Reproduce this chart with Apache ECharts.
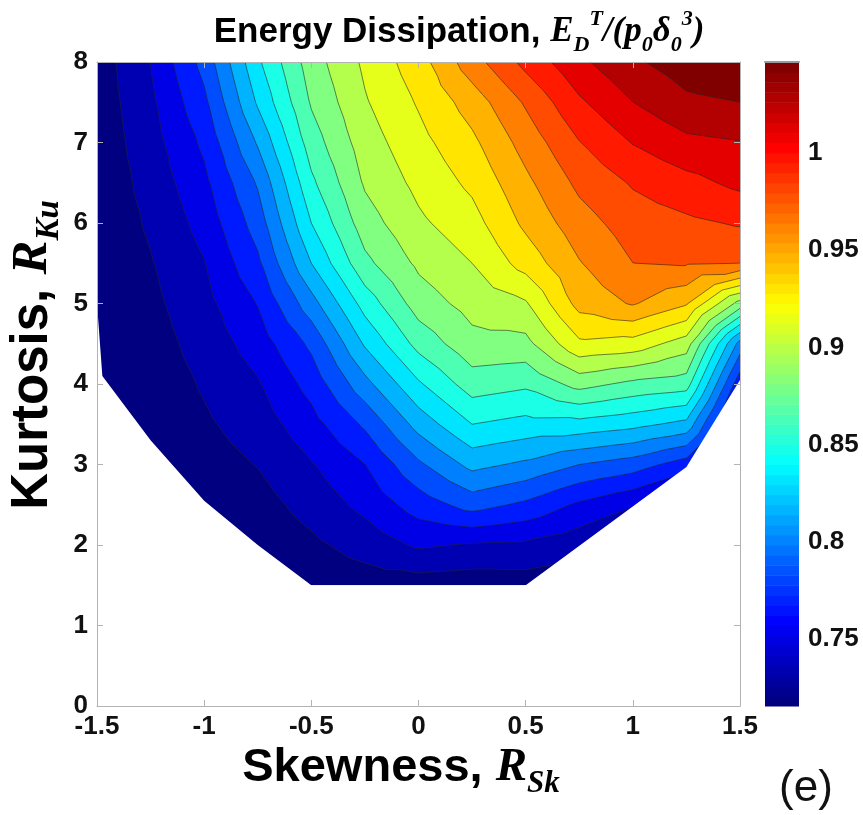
<!DOCTYPE html>
<html><head><meta charset="utf-8">
<script src="https://cdn.jsdelivr.net/npm/echarts@6/dist/echarts.min.js"></script>
<style>html,body{margin:0;padding:0;background:#fff}#c{width:863px;height:815px}</style>
</head><body><div id="c"></div>
<script>
// ---- data ----
const skewness = [-1.5, -1.25, -1, -0.75, -0.5, -0.25, 0, 0.25, 0.5, 0.75, 1, 1.25, 1.5];
const kurtosis = [1.5, 2, 2.5, 3, 3.5, 4, 4.5, 5, 5.5, 6, 6.5, 7, 7.5, 8];
// energy[j][i] : dissipated energy at kurtosis[j], skewness[i]
const energy = [
  [0.7156, 0.7156, 0.7156, 0.7172, 0.7203, 0.7235, 0.7235, 0.7219, 0.7235, 0.7203, 0.7172, 0.7156, 0.7156],
  [0.7156, 0.7156, 0.7188, 0.7203, 0.7282, 0.7378, 0.7494, 0.7456, 0.7440, 0.7370, 0.7235, 0.7188, 0.7156],
  [0.7156, 0.7172, 0.7219, 0.7251, 0.7374, 0.7516, 0.7702, 0.7850, 0.7755, 0.7601, 0.7487, 0.7314, 0.7188],
  [0.7156, 0.7188, 0.7251, 0.7320, 0.7460, 0.7628, 0.7916, 0.8150, 0.8071, 0.7945, 0.7866, 0.7708, 0.7235],
  [0.7156, 0.7203, 0.7290, 0.7388, 0.7569, 0.7814, 0.8162, 0.8418, 0.8366, 0.8362, 0.8307, 0.8213, 0.7393],
  [0.7164, 0.7219, 0.7331, 0.7456, 0.7687, 0.8050, 0.8396, 0.8654, 0.8605, 0.8790, 0.8695, 0.8648, 0.7676],
  [0.7172, 0.7243, 0.7377, 0.7542, 0.7822, 0.8280, 0.8629, 0.8839, 0.8842, 0.9176, 0.9143, 0.8970, 0.8039],
  [0.7180, 0.7274, 0.7421, 0.7637, 0.8039, 0.8482, 0.8807, 0.8951, 0.9031, 0.9419, 0.9537, 0.9380, 0.8828],
  [0.7188, 0.7303, 0.7465, 0.7755, 0.8260, 0.8692, 0.8922, 0.9049, 0.9269, 0.9512, 0.9679, 0.9695, 0.9679],
  [0.7195, 0.7337, 0.7527, 0.7859, 0.8418, 0.8818, 0.9019, 0.9146, 0.9399, 0.9613, 0.9758, 0.9806, 0.9853],
  [0.7203, 0.7370, 0.7590, 0.7963, 0.8542, 0.8911, 0.9091, 0.9241, 0.9485, 0.9717, 0.9853, 0.9944, 1.0034],
  [0.7211, 0.7405, 0.7662, 0.8120, 0.8654, 0.8973, 0.9156, 0.9329, 0.9585, 0.9831, 1.0003, 1.0116, 1.0146],
  [0.7219, 0.7438, 0.7749, 0.8282, 0.8750, 0.9034, 0.9222, 0.9436, 0.9700, 0.9970, 1.0152, 1.0279, 1.0310],
  [0.7227, 0.7475, 0.7842, 0.8389, 0.8817, 0.9080, 0.9295, 0.9613, 0.9884, 1.0118, 1.0285, 1.0389, 1.0436]
];
// lower edge of the feasible (skewness, kurtosis) region
const domainBoundary = [[-1.5, 5.0], [-1.475, 4.1], [-1.25, 3.3], [-1.0, 2.55], [-0.75, 2.0], [-0.5, 1.5],
                        [0.5, 1.5], [1.25, 2.97], [1.5, 4.05]];
const contourLevels = [0.7314, 0.7471, 0.7629, 0.7787, 0.7945, 0.8102, 0.8260, 0.8418, 0.8575, 0.8733,
                       0.8891, 0.9049, 0.9206, 0.9364, 0.9522, 0.9680, 0.9837, 0.9995, 1.0153, 1.0310];
const colorMin = 0.7156, colorMax = 1.0468;
const colorTicks = [0.75, 0.8, 0.85, 0.9, 0.95, 1];
const colormapSize = 64;

// ---- helpers ----
function jet(t) {
  const c = v => Math.max(0, Math.min(1, v));
  const r = c(1.5 - Math.abs(4 * t - 3)), g = c(1.5 - Math.abs(4 * t - 2)), b = c(1.5 - Math.abs(4 * t - 1));
  return 'rgb(' + Math.round(r * 255) + ',' + Math.round(g * 255) + ',' + Math.round(b * 255) + ')';
}
const TRIS = [];
for (let j = 0; j < kurtosis.length - 1; j++) {
  for (let i = 0; i < skewness.length - 1; i++) {
    const p00 = [skewness[i], kurtosis[j], energy[j][i]];
    const p10 = [skewness[i + 1], kurtosis[j], energy[j][i + 1]];
    const p01 = [skewness[i], kurtosis[j + 1], energy[j + 1][i]];
    const p11 = [skewness[i + 1], kurtosis[j + 1], energy[j + 1][i + 1]];
    const pc = [(p00[0] + p10[0]) / 2, (p00[1] + p01[1]) / 2, (p00[2] + p10[2] + p01[2] + p11[2]) / 4];
    TRIS.push([p00, p10, pc], [p10, p11, pc], [p11, p01, pc], [p01, p00, pc]);
  }
}
function clipAbove(poly, L) {
  const out = [];
  for (let n = 0; n < poly.length; n++) {
    const a = poly[n], b = poly[(n + 1) % poly.length];
    const ain = a[2] >= L, bin = b[2] >= L;
    if (ain) out.push(a);
    if (ain !== bin) {
      const t = (L - a[2]) / (b[2] - a[2]);
      out.push([a[0] + t * (b[0] - a[0]), a[1] + t * (b[1] - a[1]), L]);
    }
  }
  return out;
}
const bandFloors = [colorMin].concat(contourLevels);
const nBands = bandFloors.length;

const F_SANS = 'Liberation Sans', F_SERIF = 'Liberation Serif';
const axisGray = '#b3b3b3';
function frameAxis(extra) {
  return Object.assign({
    type: 'value', z: 10,
    axisLine: { show: true, onZero: false, lineStyle: { color: axisGray, width: 1 } },
    axisTick: { show: true, inside: true, length: 6, lineStyle: { color: axisGray, width: 1 } },
    splitLine: { show: false }
  }, extra);
}
const tickLabel = { fontSize: 26, fontWeight: 'bold', fontFamily: F_SANS, color: '#111', showMinLabel: true, showMaxLabel: true };
function mathRich(size, subSize, subLH, supLH, lh) {
  const base = { fontFamily: F_SERIF, fontWeight: 'bold', fontStyle: 'italic', fill: '#000' };
  return {
    a: { fontFamily: F_SANS, fontWeight: 'bold', fontSize: size, fill: '#000', lineHeight: lh },
    m: Object.assign({ fontSize: size, lineHeight: lh }, base),
    sub: Object.assign({ fontSize: subSize, lineHeight: subLH, verticalAlign: 'bottom' }, base),
    sup: Object.assign({ fontSize: subSize, lineHeight: supLH, verticalAlign: 'top' }, base)
  };
}

const chart = echarts.init(document.getElementById('c'), null, { renderer: 'canvas' });
chart.setOption({
  animation: false,
  backgroundColor: '#fff',
  grid: [
    { left: 97, right: 123, top: 62, bottom: 109 },
    { left: 765, width: 34, top: 62, bottom: 109 }
  ],
  xAxis: [
    frameAxis({ gridIndex: 0, min: -1.5, max: 1.5, interval: 0.5, position: 'bottom',
      axisLabel: Object.assign({ margin: 8 }, tickLabel) }),
    frameAxis({ gridIndex: 0, min: -1.5, max: 1.5, interval: 0.5, position: 'top', axisLabel: { show: false } }),
    { gridIndex: 1, type: 'value', min: 0, max: 1, position: 'top', z: 10,
      axisLine: { show: true, lineStyle: { color: '#9a9a9a', width: 2 } },
      axisTick: { show: false }, axisLabel: { show: false }, splitLine: { show: false } }
  ],
  yAxis: [
    frameAxis({ gridIndex: 0, min: 0, max: 8, interval: 1, position: 'left',
      axisLabel: Object.assign({ margin: 9 }, tickLabel) }),
    frameAxis({ gridIndex: 0, min: 0, max: 8, interval: 1, position: 'right', axisLabel: { show: false } }),
    { gridIndex: 1, type: 'value', min: colorMin, max: colorMax, position: 'right',
      axisLine: { show: false }, axisTick: { show: false }, splitLine: { show: false },
      axisLabel: Object.assign({ margin: 9, customValues: colorTicks }, tickLabel) }
  ],
  series: [
    { // filled contour bands
      type: 'custom', xAxisIndex: 0, yAxisIndex: 0, z: 1, silent: true,
      data: bandFloors.map((v, k) => [k, v]),
      renderItem: function (params, api) {
        const k = api.value(0), floor = api.value(1);
        let d = '';
        for (const tri of TRIS) {
          const poly = k === 0 ? tri : clipAbove(tri, floor);
          if (poly.length < 3) continue;
          for (let n = 0; n < poly.length; n++) {
            const c = api.coord([poly[n][0], poly[n][1]]);
            d += (n ? 'L' : 'M') + c[0].toFixed(2) + ' ' + c[1].toFixed(2);
          }
          d += 'Z';
        }
        return { type: 'path', shape: { pathData: d }, style: { fill: jet(k / (nBands - 1)), stroke: null } };
      }
    },
    { // contour lines
      type: 'custom', xAxisIndex: 0, yAxisIndex: 0, z: 2, silent: true,
      data: contourLevels.map((v, k) => [k, v]),
      renderItem: function (params, api) {
        const L = api.value(1);
        let d = '';
        for (const tri of TRIS) {
          const pts = [];
          for (let n = 0; n < 3; n++) {
            const a = tri[n], b = tri[(n + 1) % 3];
            if ((a[2] < L) !== (b[2] < L)) {
              const t = (L - a[2]) / (b[2] - a[2]);
              pts.push([a[0] + t * (b[0] - a[0]), a[1] + t * (b[1] - a[1])]);
            }
          }
          if (pts.length === 2) {
            const c0 = api.coord(pts[0]), c1 = api.coord(pts[1]);
            d += 'M' + c0[0].toFixed(2) + ' ' + c0[1].toFixed(2) + 'L' + c1[0].toFixed(2) + ' ' + c1[1].toFixed(2);
          }
        }
        return { type: 'path', shape: { pathData: d }, style: { fill: null, stroke: 'rgba(35,35,35,0.72)', lineWidth: 0.8 } };
      }
    },
    { // region outside the feasible domain
      type: 'custom', xAxisIndex: 0, yAxisIndex: 0, z: 3, silent: true,
      data: [[0]],
      renderItem: function (params, api) {
        const pts = [[-1.5, 0]].concat(domainBoundary, [[1.5, 0]]).map(p => api.coord(p));
        return { type: 'polygon', shape: { points: pts }, style: { fill: '#ffffff', stroke: null } };
      }
    },
    { // colorbar
      type: 'custom', xAxisIndex: 2, yAxisIndex: 2, z: 1, silent: true,
      data: Array.from({ length: colormapSize }, (_, i) => [i]),
      renderItem: function (params, api) {
        const i = api.value(0);
        const step = (colorMax - colorMin) / colormapSize;
        const lo = colorMin + i * step, hi = lo + step;
        const p1 = api.coord([0, hi]), p2 = api.coord([1, lo]);
        return { type: 'rect', shape: { x: p1[0], y: p1[1], width: p2[0] - p1[0], height: p2[1] - p1[1] + 0.6 },
                 style: { fill: jet(i / (colormapSize - 1)) } };
      }
    }
  ],
  graphic: [
    { type: 'text', x: 459, y: 32, silent: true,
      style: { text: '{a|Energy Dissipation, }{m|E}{sub|D}{sup|T}{m|/(p}{sub|0}{m|δ}{sub|0}{sup|3}{m|)}',
        align: 'center', verticalAlign: 'middle', rich: mathRich(35, 22, 28, 34, 48) } },
    { type: 'text', x: 401, y: 768, silent: true,
      style: { text: '{a|Skewness, }{m|R}{sub|Sk}', align: 'center', verticalAlign: 'middle',
        rich: mathRich(47, 31, 38, 38, 62) } },
    { type: 'text', x: 33, y: 355, rotation: Math.PI / 2, silent: true,
      style: { text: '{a|Kurtosis, }{m|R}{sub|Ku}', align: 'center', verticalAlign: 'middle',
        rich: mathRich(51, 33, 40, 40, 66) } },
    { type: 'text', x: 806, y: 789, silent: true,
      style: { text: '(e)', fontFamily: F_SANS, fontSize: 44, fill: '#111', align: 'center', verticalAlign: 'middle' } }
  ]
});
</script>
</body></html>
